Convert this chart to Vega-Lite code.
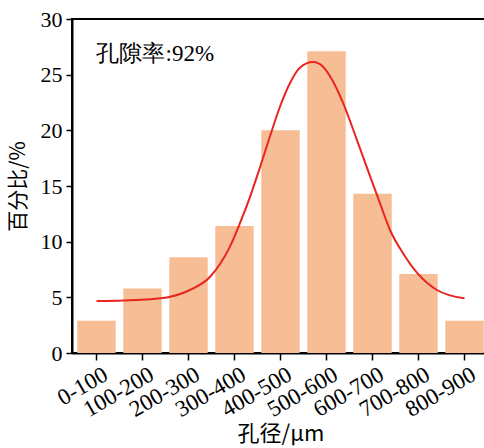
{
  "$schema": "https://vega.github.io/schema/vega-lite/v6.json",
  "width": 417,
  "height": 334,
  "autosize": {"type": "none"},
  "padding": {"left": 72, "top": 19, "right": 0, "bottom": 95},
  "background": "white",
  "config": {
    "view": {"stroke": "black", "strokeWidth": 2},
    "axis": {
      "labelFont": "Liberation Serif",
      "titleFont": "Noto Sans CJK SC",
      "labelColor": "black",
      "titleColor": "black",
      "domainColor": "black",
      "tickColor": "black",
      "domainWidth": 2,
      "tickWidth": 1.5,
      "grid": false
    }
  },
  "datasets": {
    "bars": [
      {"range": "0-100", "pct": 2.9},
      {"range": "100-200", "pct": 5.8},
      {"range": "200-300", "pct": 8.6},
      {"range": "300-400", "pct": 11.4},
      {"range": "400-500", "pct": 20.0},
      {"range": "500-600", "pct": 27.1},
      {"range": "600-700", "pct": 14.3},
      {"range": "700-800", "pct": 7.1},
      {"range": "800-900", "pct": 2.9}
    ],
    "curve": [
      {"d": 50, "y": 4.67},
      {"d": 110, "y": 4.72},
      {"d": 166, "y": 4.82},
      {"d": 210, "y": 5.05},
      {"d": 253, "y": 5.66},
      {"d": 297, "y": 6.85},
      {"d": 340, "y": 9.55},
      {"d": 362, "y": 11.68},
      {"d": 384, "y": 14.05},
      {"d": 406, "y": 16.75},
      {"d": 427, "y": 19.44},
      {"d": 449, "y": 22.14},
      {"d": 471, "y": 24.27},
      {"d": 492, "y": 25.62},
      {"d": 521, "y": 26.13},
      {"d": 542, "y": 25.74},
      {"d": 558, "y": 24.84},
      {"d": 586, "y": 22.47},
      {"d": 616, "y": 19.15},
      {"d": 645, "y": 15.85},
      {"d": 666, "y": 13.48},
      {"d": 688, "y": 11.05},
      {"d": 716, "y": 8.98},
      {"d": 747, "y": 7.19},
      {"d": 790, "y": 5.66},
      {"d": 850, "y": 4.91}
    ],
    "note": [
      {"range": "0-100", "y": 26.9, "label": "孔隙率:92%"}
    ]
  },
  "layer": [
    {
      "layer": [
        {
          "data": {"name": "bars"},
          "mark": {"type": "bar", "color": "#F7BD95"},
          "encoding": {
            "x": {
              "field": "range",
              "type": "ordinal",
              "sort": null,
              "scale": {"paddingInner": 0.165, "paddingOuter": 0.115},
              "axis": {
                "title": "孔径/μm",
                "titleFont": "Noto Sans CJK SC",
                "titleFontSize": 22,
                "titleFontWeight": "normal",
                "titlePadding": 2,
                "labelFont": "Liberation Serif",
                "labelFontSize": 23,
                "labelAngle": -30,
                "labelAlign": "right",
                "labelBaseline": "top",
                "labelPadding": 3,
                "labelOffset": 4,
                "tickSize": 7
              }
            },
            "y": {
              "field": "pct",
              "type": "quantitative",
              "scale": {"domain": [0, 30], "nice": false},
              "axis": {
                "title": "百分比/%",
                "titleFont": "Noto Sans CJK SC",
                "titleFontSize": 21,
                "titleFontWeight": "normal",
                "titlePadding": 12,
                "labelFont": "Liberation Serif",
                "labelFontSize": 22,
                "labelPadding": 4,
                "tickSize": 6,
                "values": [0, 5, 10, 15, 20, 25, 30]
              }
            }
          }
        },
        {
          "data": {"name": "note"},
          "mark": {"type": "text", "align": "left", "baseline": "middle", "fontSize": 23, "font": "Liberation Serif", "color": "black"},
          "encoding": {
            "x": {"field": "range", "type": "ordinal", "sort": null},
            "y": {"field": "y", "type": "quantitative"},
            "text": {"field": "label"}
          }
        }
      ]
    },
    {
      "data": {"name": "curve"},
      "mark": {"type": "line", "color": "#E8251F", "strokeWidth": 2, "interpolate": "monotone"},
      "encoding": {
        "x": {
          "field": "d",
          "type": "quantitative",
          "scale": {"domain": [-3.25, 903.25], "nice": false, "zero": false},
          "axis": null
        },
        "y": {"field": "y", "type": "quantitative"}
      }
    }
  ],
  "resolve": {"scale": {"x": "independent"}}
}
